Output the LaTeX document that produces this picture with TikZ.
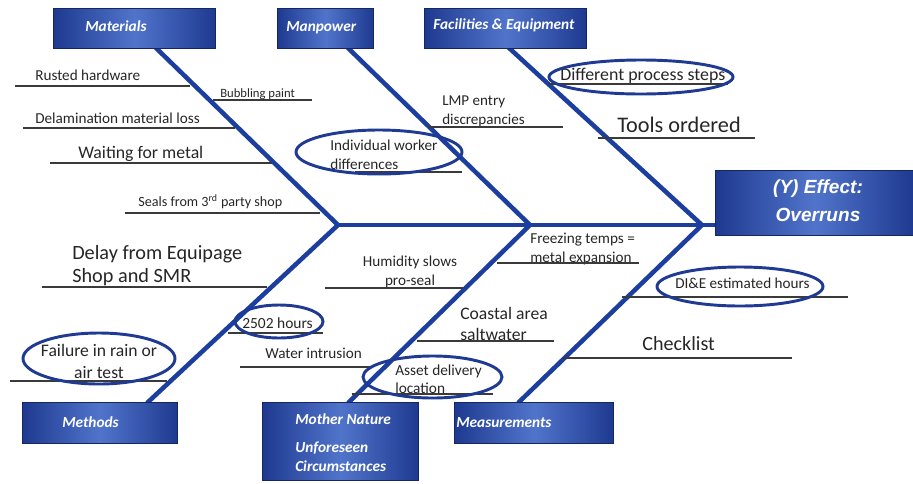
\documentclass[tikz,border=0pt]{standalone}
\usepackage{fontspec}
\setmainfont{Carlito}
\newfontfamily\arialfont{Liberation Sans}
\newcommand\myfs[2]{\fontsize{#1}{#2}\selectfont}
\definecolor{bonecol}{HTML}{1C3E9E}
\definecolor{ringcol}{HTML}{1F3A93}
\definecolor{boxdark}{HTML}{1E3A90}
\definecolor{boxlight}{HTML}{5174CB}
\definecolor{boxedge}{HTML}{15275F}
\definecolor{linecol}{HTML}{3A3A3A}
\definecolor{txtcol}{HTML}{262626}
\begin{document}
\begin{tikzpicture}[x=0.75pt,y=-0.75pt,
  bone/.style={draw=bonecol,line width=3.4pt,line cap=butt},
  catbox/.style={shading=axis,left color=boxdark,right color=boxdark,middle color=boxlight,draw=boxedge,line width=0.8pt,inner sep=0pt,anchor=north west},
  cattext/.style={text=white,font=\bfseries\itshape\myfs{11.5}{14.3},inner sep=0pt,anchor=mid west,align=left},
  lbl/.style={text=txtcol,inner sep=0pt,anchor=mid west,yshift=-2pt},
  mlbl/.style={text=txtcol,inner sep=0pt,anchor=west,align=left,yshift=-1.6pt},
  uline/.style={draw=linecol,line width=0.9pt},
  ring/.style={draw=ringcol,line width=2.2pt}]
\useasboundingbox (0,0) rectangle (913,483);

% spine junctions and bone ends
\coordinate (j1) at (338,225);
\coordinate (j2) at (530,225);
\coordinate (j3) at (702,225);
\coordinate (b1) at (155,47);
\coordinate (b2) at (347,47);
\coordinate (b3) at (508,47);
\coordinate (b4) at (147,403);
\coordinate (b5) at (348,403);
\coordinate (b6) at (518,403);

% effect box
\node[catbox,minimum width=148.5pt,minimum height=48.75pt] (eff) at (715,170) {};

% bones
\draw[bone] (b1) -- (j1);
\draw[bone] (b2) -- (j2);
\draw[bone] (b3) -- (j3);
\draw[bone] (b4) -- (j1);
\draw[bone] (b5) -- (j2);
\draw[bone] (b6) -- (j3);
\draw[bone] (j1) -- (eff.west |- j1);

% category boxes
\node[catbox,minimum width=121.5pt,minimum height=30pt] (mat) at (53,8) {};
\node[catbox,minimum width=72pt,minimum height=30pt] (man) at (277,8) {};
\node[catbox,minimum width=121.5pt,minimum height=30pt] (fac) at (424,8) {};
\node[catbox,minimum width=116.25pt,minimum height=30.75pt] (met) at (22,402) {};
\node[catbox,minimum width=117pt,minimum height=58.5pt] (nat) at (262,402) {};
\node[catbox,minimum width=119.25pt,minimum height=30.75pt] (mea) at (454,402) {};

\node[cattext] (matt) at (85,28) {Materials};
\node[cattext] (mant) at (286,28) {Manpower};
\node[cattext] (fact) at (433,26) {Facilities \& Equipment};
\node[cattext] (mett) at (62,424) {Methods};
\node[cattext,anchor=west] (natt) at (295,443) {Mother Nature\\[6.5pt]Unforeseen\\Circumstances};
\node[cattext] (meat) at (456,424) {Measurements};
\node[text=white,font=\arialfont\bfseries\itshape\myfs{14.3}{21},align=center,inner sep=0pt] (efft) at (818,201) {(Y) Effect:\\Overruns};

% Materials causes
\node[lbl,font=\myfs{11.4}{13.7}] (c1) at (35,75) {Rusted hardware};
\draw[uline] (15,86) -- (190,86);
\node[lbl,font=\myfs{9.5}{11.4}] (c2) at (220,91.5) {Bubbling paint};
\draw[uline] (213,100) -- (312,100);
\node[lbl,font=\myfs{11.4}{13.7}] (c3) at (35,118) {Delamination material loss};
\draw[uline] (23,128) -- (235,128);
\node[lbl,font=\myfs{13.3}{16}] (c4) at (78,153) {Waiting for metal};
\draw[uline] (50,163) -- (272,163);
\node[lbl,font=\myfs{10.6}{12.7}] (c5) at (138,201) {Seals from 3\textsuperscript{rd} party shop};
\draw[uline] (125,213) -- (320,213);

% Manpower causes
\node[mlbl,font=\myfs{11.3}{14.25}] (c6) at (442,109.5) {LMP entry\\discrepancies};
\draw[uline] (428,127) -- (563,127);
\node[mlbl,font=\myfs{11.4}{14.25}] (c7) at (330,152.5) {Individual worker\\differences};
\draw[uline] (355,172) -- (462,172);
\draw[ring] (379,152) ellipse [x radius=83, y radius=22];

% Facilities causes
\node[lbl,font=\myfs{13.4}{16}] (c8) at (560,75) {Different process steps};
\draw[uline] (548,84) -- (728,84);
\draw[ring] (641,77) ellipse [x radius=92, y radius=17];
\node[lbl,font=\myfs{16.7}{20}] (c9) at (617,127) {Tools ordered};
\draw[uline] (598,138) -- (755,138);

% Methods causes
\node[mlbl,font=\myfs{15.2}{17.3}] (c10) at (72,263.5) {Delay from Equipage\\Shop and SMR};
\draw[uline] (42,287) -- (267,287);
\node[lbl,font=\myfs{11.6}{14}] (c11) at (242,323) {2502 hours};
\draw[uline] (228,333) -- (323,333);
\draw[ring] (279,321.5) ellipse [x radius=44, y radius=16.5];
\node[lbl,font=\myfs{11.4}{13.7}] (c12) at (265,353) {Water intrusion};
\draw[uline] (240,367) -- (370,367);
\node[mlbl,anchor=center,align=center,font=\myfs{13.2}{16.5}] (c13) at (99,359) {Failure in rain or\\air test};
\draw[uline] (10,381) -- (167,381);
\draw[ring] (99,358.5) ellipse [x radius=76, y radius=25.5];

% Mother Nature causes
\node[mlbl,anchor=center,align=center,font=\myfs{11.4}{14.25}] (c14) at (410,269.5) {Humidity slows\\pro-seal};
\draw[uline] (325,288) -- (463,288);
\node[mlbl,font=\myfs{13.2}{15.75}] (c15) at (460,321.5) {Coastal area\\saltwater};
\draw[uline] (417,341) -- (554,341);
\node[mlbl,font=\myfs{11.5}{13.5}] (c16) at (395,377) {Asset delivery\\location};
\draw[uline] (352,394) -- (493,394);
\draw[ring] (432.5,377) ellipse [x radius=69.5, y radius=21];

% Measurements causes
\node[mlbl,font=\myfs{11.4}{14.25}] (c17) at (530,246.5) {Freezing temps =\\metal expansion};
\draw[uline] (497,263) -- (639,263);
\node[lbl,font=\myfs{11.4}{13.7}] (c18) at (675,283) {DI\&E estimated hours};
\draw[uline] (622,297) -- (848,297);
\draw[ring] (740,286.5) ellipse [x radius=83, y radius=19.5];
\node[lbl,font=\myfs{15.1}{18}] (c19) at (642,345) {Checklist};
\draw[uline] (562,358) -- (792,358);
\end{tikzpicture}
\end{document}
